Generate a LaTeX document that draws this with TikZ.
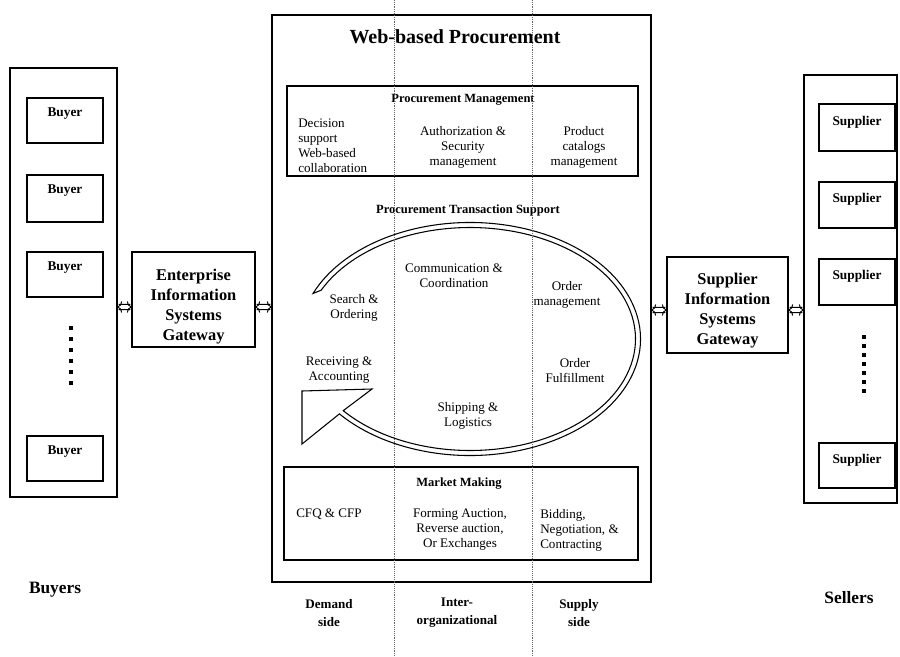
\documentclass[tikz,border=0pt]{standalone}
\usepackage{fontspec}
\setmainfont{Liberation Serif}
\usetikzlibrary{fit,calc}
\begin{document}
\begin{tikzpicture}[x=0.75pt,y=-0.75pt,
  box/.style={draw, line width=0.9pt, inner sep=0pt},
  txt/.style={font=\fontsize{9.8}{11.3}\selectfont, align=center, inner sep=0pt},
  btxt/.style={font=\fontsize{9.4}{11.3}\selectfont\bfseries, align=center, inner sep=0pt},
  side/.style={font=\fontsize{9.8}{13.5}\selectfont\bfseries, align=center, inner sep=0pt},
  gate/.style={font=\fontsize{12.3}{15}\selectfont\bfseries, align=center, inner sep=0pt},
  group/.style={font=\fontsize{13}{15}\selectfont\bfseries, inner sep=0pt},
  % two-way link: a pair of rails with a barbed head at each end
  dbl/.style={line width=0.7pt, to path={
    ($(\tikztostart)+(1,-2.6)$) -- ($(\tikztotarget)+(-1,-2.6)$)
    ($(\tikztostart)+(1,2.6)$) -- ($(\tikztotarget)+(-1,2.6)$)
    ($(\tikztostart)+(4,-5.5)$) .. controls ($(\tikztostart)+(3,-1.5)$) .. (\tikztostart)
      .. controls ($(\tikztostart)+(3,1.5)$) .. ($(\tikztostart)+(4,5.5)$)
    ($(\tikztotarget)+(-4,-5.5)$) .. controls ($(\tikztotarget)+(-3,-1.5)$) .. (\tikztotarget)
      .. controls ($(\tikztotarget)+(-3,1.5)$) .. ($(\tikztotarget)+(-4,5.5)$)
  }},
  guide/.style={densely dotted, line width=0.4pt, black!60},
  dot/.style={fill=black}
]
\fill[white] (0,0) rectangle (900,657);
\useasboundingbox (0,0) rectangle (900,657);

% ---------------- buyers column ----------------
\node[box, fit={(10,68) (117,497)}] (buyers) {};
\node[box, fit={(27,98) (103,143)}] (b1) {};
\node[box, fit={(27,175) (103,222)}] (b2) {};
\node[box, fit={(27,252) (103,297)}] (b3) {};
\node[box, fit={(27,436) (103,481)}] (b4) {};
\foreach \n/\y in {b1t/114, b2t/191, b3t/268, b4t/452}
  \node[btxt, font=\fontsize{10}{12}\selectfont\bfseries] (\n) at (65,\y) {Buyer};
\foreach \y in {328,339,350,361,372,383}
  \fill[dot] (69,\y-2) rectangle ++(4,4);
\node[group] (buyerslbl) at (55,590) {Buyers};

% ---------------- gateways ----------------
\node[box, fit={(132,252) (255,347)}] (eisg) {};
\node[gate] (eisgt) at (193.5,307) {Enterprise\\Information\\Systems\\Gateway};
\node[box, fit={(667,257) (788,353)}] (sisg) {};
\node[gate] (sisgt) at (727.5,311) {Supplier\\Information\\Systems\\Gateway};

% ---------------- suppliers column ----------------
\node[box, fit={(804,75) (897,503)}] (sellers) {};
\node[box, fit={(819,104) (895,151)}] (s1) {};
\node[box, fit={(819,182) (895,228)}] (s2) {};
\node[box, fit={(819,259) (895,305)}] (s3) {};
\node[box, fit={(819,443) (895,488)}] (s4) {};
\foreach \n/\y in {s1t/122, s2t/199, s3t/276, s4t/460}
  \node[btxt, font=\fontsize{10}{12}\selectfont\bfseries] (\n) at (857,\y) {Supplier};
\foreach \y in {337,346,355,364,373,382,391}
  \fill[dot] (862,\y-2) rectangle ++(4,4);
\node[group] (sellerslbl) at (849,598) {Sellers};

% ---------------- web-based procurement ----------------
\node[box, fit={(272,15) (651,582)}] (main) {};
\node[font=\fontsize{15}{18}\selectfont\bfseries, inner sep=0pt] (title) at (455,37) {Web-based Procurement};

% procurement management
\node[box, fit={(287,86) (638,176)}] (pm) {};
\node[btxt] (pmt) at (463,100) {Procurement Management};
\node[txt, align=left, anchor=west] (pm1) at (298,146) {Decision\\support\\Web-based\\collaboration};
\node[txt] (pm2) at (463,147.5) {Authorization \&\\Security\\management};
\node[txt] (pm3) at (584,147.5) {Product\\catalogs\\management};

% procurement transaction support loop
\node[btxt] (ptst) at (468,210) {Procurement Transaction Support};
\coordinate (c) at (470,339);
\draw[line width=0.8pt, fill=white]
  ($(c)+(203:170.5 and 116.5)$)
  arc[start angle=203, end angle=500, x radius=170.5, y radius=116.5]
  -- (302,444) -- (302,391) -- (372,389)
  -- ($(c)+(500:165.5 and 111.5)$)
  arc[start angle=500, end angle=206, x radius=165.5, y radius=111.5]
  -- cycle;
\node[txt] (comm) at (454,276) {Communication \&\\Coordination};
\node[txt] (search) at (354,307.5) {Search \&\\Ordering};
\node[txt] (ordm) at (567,294.5) {Order\\management};
\node[txt] (recv) at (339,370) {Receiving \&\\Accounting};
\node[txt] (ordf) at (575,370.5) {Order\\Fulfillment};
\node[txt] (ship) at (468,415.5) {Shipping \&\\Logistics};

% market making
\node[box, fit={(284,467) (638,560)}] (mm) {};
\node[btxt] (mmt) at (459,484) {Market Making};
\node[txt, anchor=west] (cfq) at (296,514) {CFQ \& CFP};
\node[txt] (form) at (460,530) {Forming Auction,\\Reverse auction,\\Or Exchanges};
\node[txt, align=left, anchor=west] (bid) at (540,530) {Bidding,\\Negotiation, \&\\Contracting};

% side captions
\node[side] (demand) at (329,613) {Demand\\side};
\node[side] (inter) at (457,613) {Inter-\\organizational};
\node[side] (supply) at (579,613) {Supply\\side};

% ---------------- links ----------------
\coordinate (l1a) at (buyers.east |- 0,307);
\coordinate (l1b) at (eisg.west |- 0,307);
\coordinate (l2a) at (eisg.east |- 0,307);
\coordinate (l2b) at (main.west |- 0,307);
\coordinate (r1a) at (main.east |- 0,310);
\coordinate (r1b) at (sisg.west |- 0,310);
\coordinate (r2a) at (sisg.east |- 0,310);
\coordinate (r2b) at (sellers.west |- 0,310);
\draw[dbl] (l1a) to (l1b);
\draw[dbl] (l2a) to (l2b);
\draw[dbl] (r1a) to (r1b);
\draw[dbl] (r2a) to (r2b);

% ---------------- column guides ----------------
\draw[guide] (394,0) -- (394,657);
\draw[guide] (532,0) -- (532,657);
\end{tikzpicture}
\end{document}
